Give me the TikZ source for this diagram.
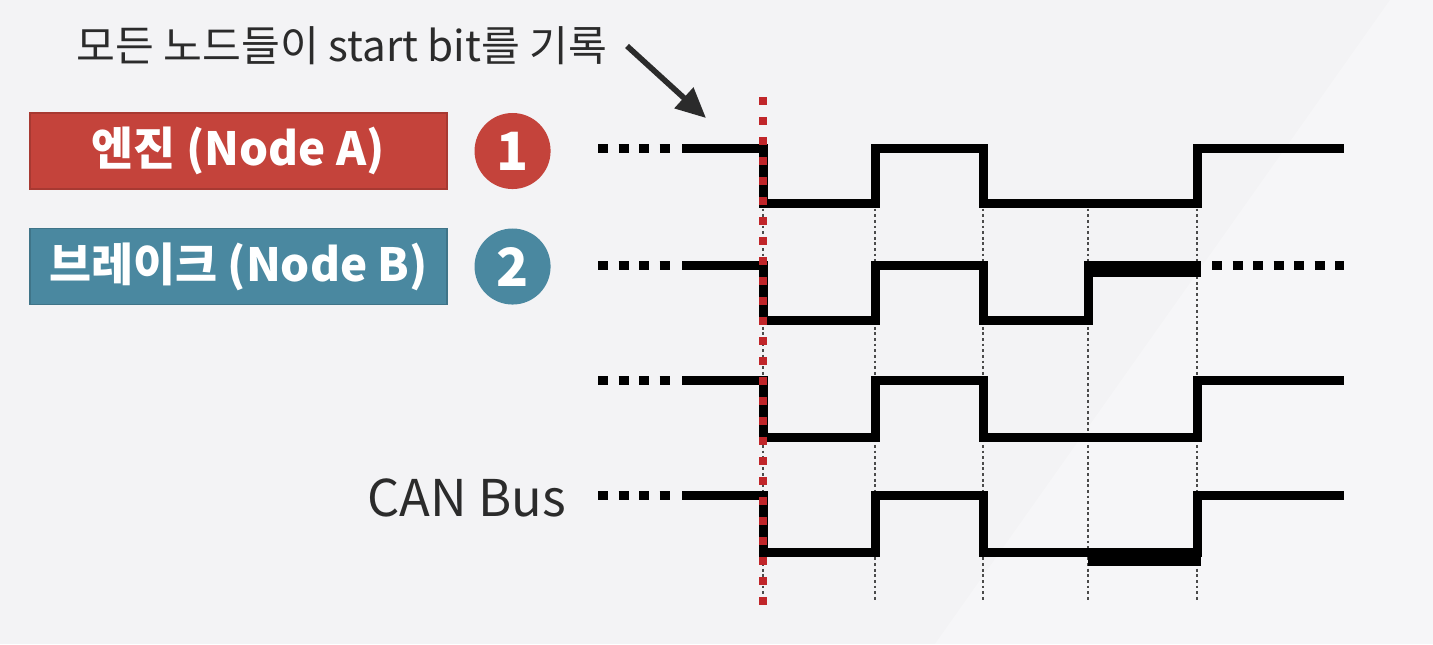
\documentclass[tikz,border=0pt]{standalone}
\usepackage{fontspec}
\setmainfont{Noto Sans CJK KR}
\usetikzlibrary{arrows.meta, positioning}
\definecolor{cred}{HTML}{C4433B}
\definecolor{cblue}{HTML}{4A88A0}
\definecolor{cbg}{HTML}{F3F3F5}
\definecolor{cink}{HTML}{2B2B2B}
\definecolor{cmark}{HTML}{C0262A}
\tikzset{
  every picture/.style={line join=miter},
  tag/.style={fill=#1, draw=#1!85!black, line width=0.4pt, text=white, inner sep=0pt,
              minimum width=4.17cm, minimum height=0.76cm, font=\bfseries\fontsize{13}{16}\selectfont},
  badge/.style={circle, fill=#1, text=white, inner sep=0pt, minimum size=0.76cm,
                font=\bfseries\fontsize{15}{18}\selectfont},
  wave/.style={line width=0.09cm, draw=black},
  lead/.style={wave, dash pattern=on 0.1cm off 0.105cm},
  guide/.style={line width=0.6pt, draw=cink!85, dash pattern=on 0.8pt off 0.8pt},
  startbit/.style={line width=0.08cm, draw=cmark, dash pattern=on 0.08cm off 0.12cm},
  pointer/.style={-{Triangle[length=0.3cm, width=0.27cm]}, line width=1.6pt, draw=cink},
  note/.style={text=cink, inner sep=2pt},
}

\begin{document}
\begin{tikzpicture}[x=0.01cm, y=-0.01cm]
  % background, fixes the page size
  \fill[cbg] (0,0) rectangle (1433,644);
  \useasboundingbox (0,0) rectangle (1433,644);
  \fill[white, opacity=0.3] (935,644) -- (1390,0) -- (1433,0) -- (1433,644) -- cycle;

  % labels on the left
  \node[tag=cred] (engine) at (238.5,151) {엔진 (Node A)};
  \node[tag=cblue] (brake) at (238.5,266.5) {브레이크 (Node B)};
  \node[badge=cred, right=0.26cm of engine] (n1) {1};
  \node[badge=cblue, right=0.26cm of brake] (n2) {2};
  \node[note, font=\fontsize{14.4}{17}\selectfont] (bus) at (467,498) {CAN Bus};
  \node[note, font=\fontsize{12}{14}\selectfont] (remark) at (342,46) {모든 노드들이 start bit를 기록};
  \coordinate (sof) at (706,118);
  \draw[pointer] ([xshift=0.12cm]remark.east) -- (sof);

  % bit boundaries
  \foreach \x in {763,875,983,1088,1197}
    \draw[guide] (\x,203) -- (\x,600);

  % waveforms: high / low level of each row
  \foreach \hi/\lo in {148/203, 265/320, 380/437, 495/552}
    \draw[lead] (598,\hi) -- (674,\hi);
  \foreach \hi/\lo in {148/203, 380/437, 495/552}
    \draw[wave] (682,\hi) -| (763,\lo) -| (875,\hi) -| (983,\lo) -| (1197,\hi) -- (1344,\hi);
  \draw[wave] (682,265) -| (763,320) -| (875,265) -| (983,320) -| (1088,265) -- (1200,265);
  \draw[lead] (1212,265) -- (1344,265);
  % overwritten bits
  \fill (1088,260.5) rectangle (1201,277);
  \fill (1088,547.5) rectangle (1201,566);

  % start of frame
  \draw[startbit] (763,97) -- (763,612);
\end{tikzpicture}
\end{document}
